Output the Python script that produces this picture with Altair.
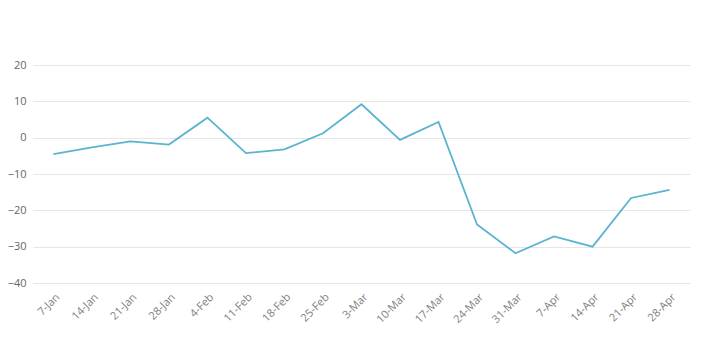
import altair as alt
import pandas as pd

weeks = ["7-Jan", "14-Jan", "21-Jan", "28-Jan", "4-Feb", "11-Feb", "18-Feb", "25-Feb",
         "3-Mar", "10-Mar", "17-Mar", "24-Mar", "31-Mar", "7-Apr", "14-Apr", "21-Apr", "28-Apr"]
values = [-4.5, -2.7, -1.0, -1.9, 5.5, -4.25, -3.2, 1.2,
          9.2, -0.6, 4.3, -23.9, -31.8, -27.2, -30.0, -16.6, -14.4]
y_ticks = [-40, -30, -20, -10, 0, 10, 20]

df = pd.DataFrame({"week": weeks, "value": values})

chart = alt.Chart(df).mark_line(color="#5ab4d0", strokeWidth=1.8).encode(
    x=alt.X("week:N", sort=weeks, title=None,
            scale=alt.Scale(type="point", padding=0.53),
            axis=alt.Axis(labelAngle=-45, labelColor="#808080", labelFontSize=11,
                          labelFont="Open Sans", domain=False, ticks=False, grid=False,
                          labelPadding=8)),
    y=alt.Y("value:Q", title=None,
            scale=alt.Scale(domain=[-40, 20], nice=False),
            axis=alt.Axis(values=y_ticks, labelColor="#666666", labelFontSize=11,
                          labelFont="Open Sans", domain=False, ticks=False,
                          gridColor="#e6e6e6", labelPadding=7)),
).properties(
    width=657, height=218,
    autosize=alt.AutoSizeParams(type="none"),
    padding={"left": 25, "top": 57, "right": 5, "bottom": 60},
).configure(background="white").configure_view(stroke=None, strokeWidth=0)

chart.save("out.html", embed_options={"renderer": "svg", "actions": False})
